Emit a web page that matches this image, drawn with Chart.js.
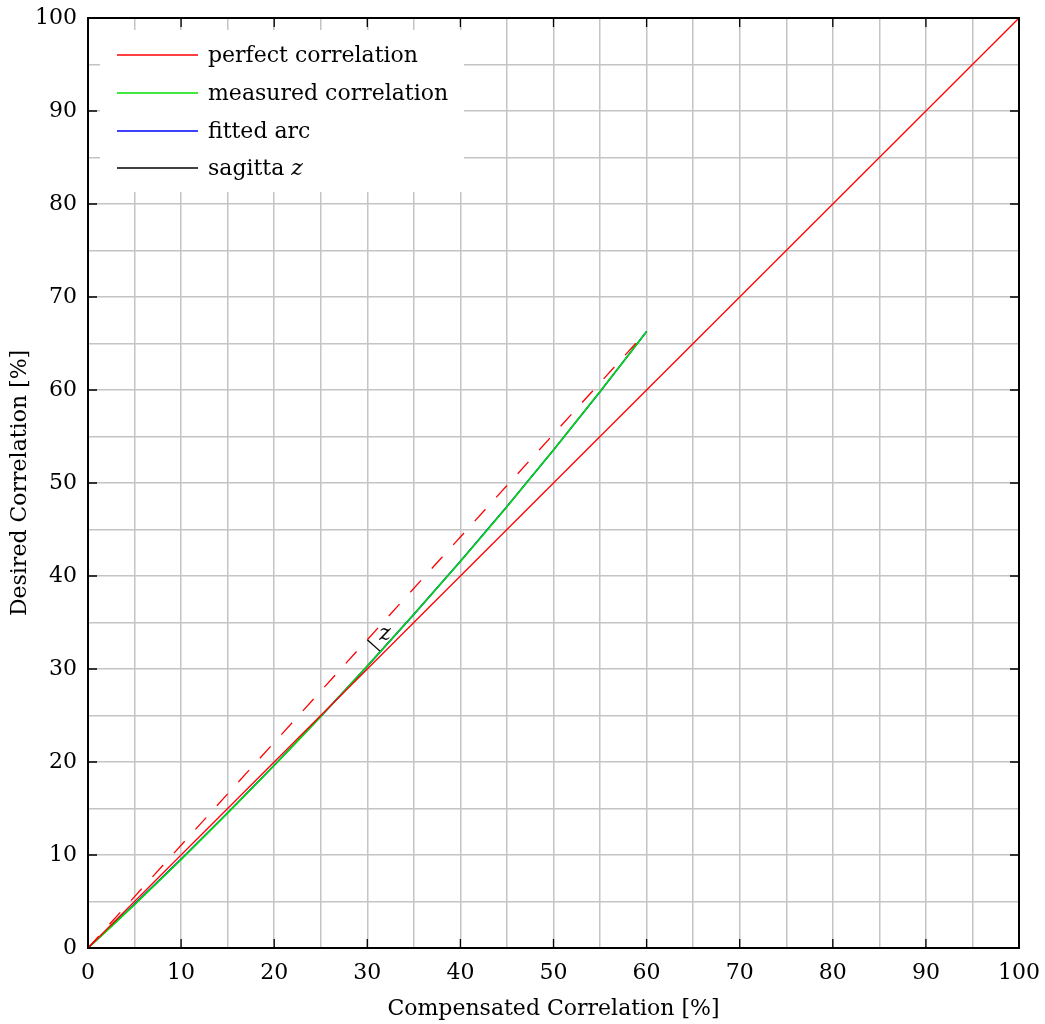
<!DOCTYPE html>
<html>
<head>
<meta charset="utf-8">
<script src="https://cdn.jsdelivr.net/npm/chart.js@4.4.1/dist/chart.umd.min.js"></script>
<style>
  html, body { margin: 0; padding: 0; background: #fff; overflow: hidden; }
  canvas { display: block; }
</style>
</head>
<body>
<canvas id="c" width="1045" height="1024"></canvas>
<script>
// ---- data ----
const majorTicks = [0, 10, 20, 30, 40, 50, 60, 70, 80, 90, 100];

const perfectX = [0, 100];
const perfectY = [0, 100];

const measuredX = [0, 2.5, 5, 7.5, 10, 12.5, 15, 17.5, 20, 22.5, 25, 27.5, 30, 32.5, 35, 37.5, 40, 42.5, 45, 47.5, 50, 52.5, 55, 57.5, 60];
const measuredY = [0, 2.30, 4.66, 7.08, 9.50, 12.00, 14.50, 17.05, 19.62, 22.25, 24.90, 27.60, 30.33, 33.10, 35.88, 38.70, 41.55, 44.48, 47.45, 50.50, 53.55, 56.70, 59.85, 63.05, 66.30];

const fittedX = [0, 5, 10, 15, 20, 25, 30, 35, 40, 45, 50, 55, 60];
const fittedY = [0, 4.72, 9.56, 14.54, 19.65, 24.90, 30.31, 35.87, 41.59, 47.48, 53.56, 59.82, 66.29];

const chordX = [0, 60];
const chordY = [0, 66.3];

const sagittaX = [30, 31.42];
const sagittaY = [33.15, 31.87];

const sagittaLabel = 'z';
const sagittaLabelAt = [31.9, 33.75];

const xTitle = 'Compensated Correlation [%]';
const yTitle = 'Desired Correlation [%]';

// ---- helpers ----
const pts = (xs, ys) => xs.map((x, i) => ({ x: x, y: ys[i] }));
const FONT = '"DejaVu Serif", "Liberation Serif", serif';
const GRID = '#c4c4c4';

const tickCb = v => (majorTicks.includes(v) ? String(v) : '');

const legendPlugin = {
  id: 'pgfLegend',
  afterDraw(chart) {
    const ctx = chart.ctx;
    const a = chart.chartArea;
    const xs = chart.scales.x, ys = chart.scales.y;
    ctx.save();

    // sagitta label
    ctx.font = 'italic 22px ' + FONT;
    ctx.fillStyle = '#000';
    ctx.textAlign = 'center';
    ctx.textBaseline = 'middle';
    ctx.fillText(sagittaLabel, xs.getPixelForValue(sagittaLabelAt[0]), ys.getPixelForValue(sagittaLabelAt[1]));

    // legend box
    const bx = a.left + 12, by = a.top + 12, bw = 364, bh = 162;
    ctx.fillStyle = '#fff';
    ctx.fillRect(bx, by, bw, bh);
    const entries = chart.data.datasets.filter(d => d.inLegend);
    const rowY = [37, 75, 113, 150];
    entries.forEach((d, i) => {
      const y = a.top + rowY[i];
      ctx.strokeStyle = d.borderColor;
      ctx.lineWidth = 1.5;
      ctx.setLineDash([]);
      ctx.beginPath();
      ctx.moveTo(a.left + 29, y);
      ctx.lineTo(a.left + 110, y);
      ctx.stroke();
      ctx.fillStyle = '#000';
      ctx.textAlign = 'left';
      ctx.textBaseline = 'middle';
      const tx = a.left + 120;
      if (d.legendItalic) {
        ctx.font = '22px ' + FONT;
        const base = d.label.slice(0, d.label.length - d.legendItalic.length);
        ctx.fillText(base, tx, y + 1);
        const w = ctx.measureText(base).width;
        ctx.font = 'italic 22px ' + FONT;
        ctx.fillText(d.legendItalic, tx + w, y + 1);
      } else {
        ctx.font = '22px ' + FONT;
        ctx.fillText(d.label, tx, y + 1);
      }
    });

    // inward tick marks
    ctx.strokeStyle = '#000';
    ctx.lineWidth = 1.3;
    const L = 9;
    majorTicks.forEach(v => {
      const px = xs.getPixelForValue(v);
      const py = ys.getPixelForValue(v);
      ctx.beginPath();
      ctx.moveTo(px, a.bottom); ctx.lineTo(px, a.bottom - L);
      ctx.moveTo(px, a.top); ctx.lineTo(px, a.top + L);
      ctx.moveTo(a.left, py); ctx.lineTo(a.left + L, py);
      ctx.moveTo(a.right, py); ctx.lineTo(a.right - L, py);
      ctx.stroke();
    });

    // frame
    ctx.lineWidth = 2;
    ctx.strokeRect(a.left, a.top, a.right - a.left, a.bottom - a.top);
    ctx.restore();
  }
};

const common = { showLine: true, pointRadius: 0, pointHoverRadius: 0, fill: false, tension: 0 };

new Chart(document.getElementById('c'), {
  type: 'scatter',
  data: {
    datasets: [
      Object.assign({ label: 'perfect correlation', data: pts(perfectX, perfectY), borderColor: '#ff0000', borderWidth: 1.3, inLegend: true }, common),
      Object.assign({ label: 'chord', data: pts(chordX, chordY), borderColor: '#ff0000', borderWidth: 1.3, borderDash: [16, 16] }, common),
      Object.assign({ label: 'measured correlation', data: pts(measuredX, measuredY), borderColor: '#00e000', borderWidth: 1.6, inLegend: true }, common),
      Object.assign({ label: 'fitted arc', data: pts(fittedX, fittedY), borderColor: '#0000ff', borderWidth: 1.6, inLegend: true }, common),
      Object.assign({ label: 'sagitta z', legendItalic: 'z', data: pts(sagittaX, sagittaY), borderColor: '#000000', borderWidth: 1.3, inLegend: true }, common)
    ]
  },
  options: {
    responsive: false,
    animation: false,
    devicePixelRatio: 1,
    layout: { padding: { top: 18, right: 26, left: 0, bottom: 0 } },
    plugins: { legend: { display: false }, tooltip: { enabled: false } },
    scales: {
      x: {
        type: 'linear', min: 0, max: 100,
        afterFit(s) { s.height = 76; s.paddingLeft = 0; s.paddingRight = 0; },
        grid: { color: GRID, lineWidth: 1.5, drawTicks: false },
        border: { display: false },
        ticks: { stepSize: 5, autoSkip: false, maxRotation: 0, padding: 12, color: '#000', font: { family: FONT, size: 22 }, callback: tickCb },
        title: { display: true, text: xTitle, color: '#000', font: { family: FONT, size: 22 }, padding: { top: 0, bottom: 2 } }
      },
      y: {
        type: 'linear', min: 0, max: 100,
        afterFit(s) { s.width = 88; s.paddingTop = 0; s.paddingBottom = 0; },
        grid: { color: GRID, lineWidth: 1.5, drawTicks: false },
        border: { display: false },
        ticks: { stepSize: 5, autoSkip: false, padding: 11, color: '#000', font: { family: FONT, size: 22 }, callback: tickCb },
        title: { display: true, text: yTitle, color: '#000', font: { family: FONT, size: 22 }, padding: { top: 7, bottom: 0 } }
      }
    }
  },
  plugins: [legendPlugin]
});
</script>
</body>
</html>
